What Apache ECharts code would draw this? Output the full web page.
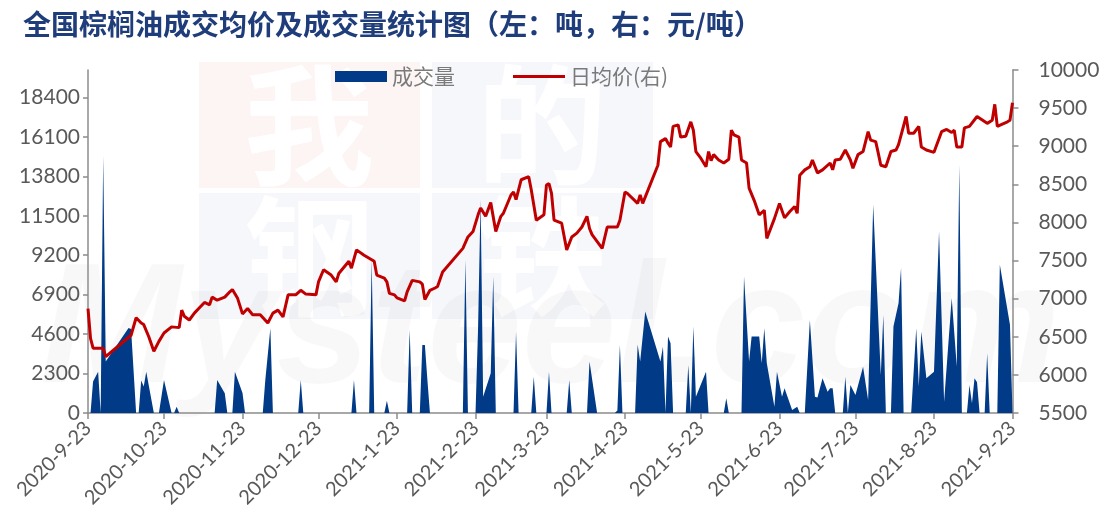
<!DOCTYPE html>
<html>
<head>
<meta charset="utf-8">
<title>全国棕榈油成交均价及成交量统计图</title>
<script src="https://cdn.jsdelivr.net/npm/echarts@6/dist/echarts.min.js"></script>
<style>
  html, body { margin: 0; padding: 0; background: #fff; }
  #main { width: 1118px; height: 529px; }
</style>
</head>
<body>
<div id="main"></div>
<script>
// x = days since 2020-9-23
var tickDay = [0, 30, 61, 91, 122, 153, 181, 212, 242, 273, 303, 334, 365];
var tickLabel = ['2020-9-23', '2020-10-23', '2020-11-23', '2020-12-23', '2021-1-23', '2021-2-23',
  '2021-3-23', '2021-4-23', '2021-5-23', '2021-6-23', '2021-7-23', '2021-8-23', '2021-9-23'];

// 成交量 (吨)
var volDay = [0, 1, 2, 4, 5, 6, 7, 16, 17, 19, 20, 21, 22, 23, 26, 28, 30, 33, 34, 35, 36,
  50, 51, 54, 55, 57, 58, 61, 62, 69, 70, 72, 73, 83, 84, 85,
  104, 105, 106, 111, 112, 113, 117, 118, 119, 126, 127, 128, 131, 132, 133, 134, 135,
  148, 149, 150, 153, 154, 155, 156, 159, 160, 161, 168, 169, 170, 175, 176, 177,
  181, 182, 183, 189, 190, 191, 197, 198, 201, 208, 209, 210, 211,
  216, 217, 218, 220, 226, 227, 228, 229, 230, 231, 236, 237, 238, 239, 240, 244, 245,
  251, 252, 253, 258, 259, 261, 262, 265, 266, 267, 268, 271, 272, 274, 275, 278, 280, 281,
  283, 285, 287, 288, 290, 292, 293, 294, 295, 298, 299, 300, 301, 303, 306, 308, 310,
  313, 314, 315, 317, 318, 320, 321, 322, 325, 327, 328, 329, 331, 334, 336, 338, 341,
  343, 344, 345, 347, 348, 349, 350, 351, 352, 354, 355, 356, 359, 360, 364, 365];
var volVal = [0, 0, 1830, 2410, 0, 14970, 3000, 4960, 4900, 0, 0, 1890, 1540, 2410, 0, 0, 1930, 0, 0, 370, 0,
  0, 1930, 1150, 0, 0, 2410, 1170, 0, 0, 1930, 4940, 0, 0, 1930, 0,
  0, 1930, 0, 0, 8940, 0, 0, 720, 0, 0, 4850, 0, 0, 3970, 3970, 1930, 0,
  0, 8940, 0, 0, 4940, 12440, 950, 2320, 7960, 0, 0, 4750, 0, 0, 2120, 0,
  0, 2410, 0, 0, 1930, 0, 0, 3000, 0, 0, 150, 3970, 0,
  0, 4000, 3000, 5920, 3000, 3870, 0, 4460, 4070, 0, 0, 2800, 0, 5040, 950, 2410, 0,
  0, 860, 0, 0, 7960, 3000, 4460, 4460, 2900, 4940, 2900, 370, 2410, 950, 1440, 175, 370, 0,
  0, 5430, 950, 900, 2030, 1245, 1440, 1440, 0, 0, 2120, 0, 1635, 1050, 2700, 760, 12150,
  2220, 5720, 0, 0, 5040, 6400, 8450, 0, 0, 4940, 1540, 4750, 2030, 2410, 10590, 660, 6700,
  2700, 14480, 0, 0, 1635, 570, 2030, 1800, 0, 0, 3490, 0, 0, 8640, 5140, 0];

// 日均价 (元/吨)
var priceDay = [0, 1, 2, 6, 7, 17, 19, 21, 22, 24, 26, 28, 30, 33, 36, 37, 38, 40, 42, 44, 46,
  48, 49, 51, 54, 56, 57, 59, 61, 63, 65, 68, 71, 73, 75, 77, 79, 82, 84, 86, 90, 91,
  93, 96, 98, 99, 103, 104, 106, 109, 111, 113, 114, 117, 118, 119, 121, 122, 125, 126,
  128, 131, 132, 133, 135, 137, 138, 140, 148, 150, 152, 154, 155, 157, 159, 161, 163,
  164, 167, 168, 169, 171, 174, 175, 177, 180, 181, 182, 183, 184, 187, 189, 191, 193,
  195, 197, 198, 199, 203, 205, 209, 210, 212, 213, 217, 218, 219, 225, 226, 228, 229,
  230, 231, 233, 234, 236, 238, 239, 240, 242, 244, 245, 246, 247, 249, 251, 253, 254,
  255, 257, 258, 260, 261, 263, 265, 267, 268, 271, 273, 275, 277, 279, 280, 281, 283,
  285, 286, 288, 290, 293, 294, 295, 297, 299, 301, 302, 304, 306, 308, 309, 311, 312,
  313, 315, 317, 319, 320, 323, 324, 326, 328, 329, 331, 334, 337, 339, 341, 342, 343,
  345, 346, 348, 351, 355, 357, 358, 359, 363, 364, 365];
var priceVal = [6870, 6480, 6350, 6350, 6240, 6520, 6750, 6680, 6660, 6500, 6310, 6440, 6550, 6630, 6620, 6850, 6770, 6720, 6810, 6880, 6950,
  6920, 7020, 6980, 7020, 7090, 7120, 7010, 6800, 6870, 6790, 6790, 6680, 6810, 6850, 6760, 7050, 7050, 7110, 7060, 7050, 7220,
  7380, 7310, 7220, 7330, 7490, 7400, 7640, 7570, 7530, 7490, 7310, 7270, 7220, 7070, 7050, 7010, 6970, 7090,
  7240, 7220, 7190, 6990, 7110, 7140, 7160, 7350, 7660, 7810, 7880, 8100, 8190, 8080, 8260, 7880, 8080,
  8120, 8360, 8400, 8300, 8560, 8600, 8430, 8030, 8100, 8490, 8510, 8380, 8030, 7990, 7640, 7810, 7860,
  7940, 8080, 7920, 7840, 7660, 7940, 7940, 8030, 8400, 8380, 8250, 8360, 8250, 8750, 9060, 9100, 9040,
  8990, 9260, 9280, 9120, 9130, 9320, 9210, 8930, 8840, 8730, 8930, 8810, 8890, 8820, 8780, 8830, 9210,
  9150, 9120, 8820, 8780, 8450, 8290, 8100, 8160, 7790, 8050, 8250, 8060, 8140, 8210, 8120, 8620, 8690,
  8730, 8820, 8650, 8690, 8780, 8690, 8820, 8830, 8950, 8820, 8710, 8890, 8930, 9190, 9080, 9060, 8910,
  8750, 8730, 8930, 8950, 9020, 9390, 9170, 9170, 9260, 8990, 8950, 8920, 9190, 9220, 9180, 9210, 8990,
  8990, 9240, 9260, 9390, 9300, 9340, 9550, 9260, 9320, 9340, 9570];

var leftTicks = [0, 2300, 4600, 6900, 9200, 11500, 13800, 16100, 18400];

var axisColor = '#8c8c8c';
var labelColor = '#595959';
var navy = '#013a87';
var red = '#c00000';

// 背景水印 我的钢铁 Mysteel.com
var wmBlocks = [
  { x: 199, y: 62, fill: '#fdf4f4', ch: '我' },
  { x: 432, y: 62, fill: '#f6f7fb', ch: '的' },
  { x: 199, y: 193, fill: '#f6f7fb', ch: '钢' },
  { x: 432, y: 193, fill: '#f6f7fb', ch: '铁' }
];
var graphics = [];
wmBlocks.forEach(function (b) {
  graphics.push({
    type: 'rect', z: -10, silent: true,
    shape: { x: b.x, y: b.y, width: 221, height: 126 },
    style: { fill: b.fill }
  });
  graphics.push({
    type: 'text', z: -9, silent: true,
    x: b.x + 110, y: b.y + 63,
    style: {
      text: b.ch, fill: '#ffffff', fontSize: 130, fontWeight: 'bold',
      fontFamily: 'Noto Sans CJK SC', align: 'center', verticalAlign: 'middle'
    }
  });
});
graphics.push({
  type: 'text', z: -8, silent: true,
  x: 40, y: 420,
  style: {
    text: 'Mysteel.com', fill: 'rgba(0,0,0,0.028)', fontSize: 170, fontWeight: 'bold',
    fontStyle: 'italic', fontFamily: 'Liberation Sans', verticalAlign: 'bottom'
  }
});

var myChart = echarts.init(document.getElementById('main'));
var option = {
  animation: false,
  graphic: graphics,
  title: {
    text: '全国棕榈油成交均价及成交量统计图（左：吨，右：元/吨）',
    left: 18,
    top: 5,
    textStyle: {
      color: '#1f3d7a',
      fontSize: 28,
      fontWeight: 'bold',
      fontFamily: 'Noto Sans CJK SC'
    }
  },
  legend: {
    left: 330,
    top: 61,
    itemWidth: 52,
    itemHeight: 11,
    itemGap: 58,
    symbolKeepAspect: true,
    textStyle: { color: '#7a7a7a', fontSize: 21, fontFamily: 'Noto Sans CJK SC' },
    data: [
      { name: '成交量', icon: 'rect' },
      { name: '日均价(右)', icon: 'path://M0,0H52V3H0Z' }
    ]
  },
  grid: { left: 88, right: 105.5, top: 70, bottom: 116 },
  xAxis: {
    type: 'value',
    min: 0,
    max: 365,
    splitLine: { show: false },
    axisLine: { show: true, lineStyle: { color: axisColor, width: 1.5 } },
    axisTick: { show: true, customValues: tickDay, length: 6, lineStyle: { color: axisColor, width: 1.5 } },
    axisLabel: {
      customValues: tickDay,
      formatter: function (v) {
        var i = tickDay.indexOf(v);
        return i >= 0 ? tickLabel[i] : '';
      },
      rotate: 45,
      margin: 12,
      color: labelColor,
      fontSize: 20,
      fontFamily: 'Lato'
    }
  },
  yAxis: [
    {
      type: 'value',
      min: 0,
      max: 20000,
      splitLine: { show: false },
      axisLine: { show: true, lineStyle: { color: axisColor, width: 1.5 } },
      axisTick: { show: true, customValues: leftTicks, length: 5, lineStyle: { color: axisColor, width: 1.5 } },
      axisLabel: {
        customValues: leftTicks, margin: 8, color: labelColor, fontSize: 21, fontFamily: 'Lato',
        formatter: function (v) { return String(v); }
      }
    },
    {
      type: 'value',
      min: 5500,
      max: 10000,
      interval: 500,
      splitLine: { show: false },
      axisLine: { show: true, lineStyle: { color: axisColor, width: 1.5 } },
      axisTick: { show: true, length: 6, lineStyle: { color: axisColor, width: 1.5 } },
      axisLabel: {
        margin: 26, color: labelColor, fontSize: 21, fontFamily: 'Lato',
        formatter: function (v) { return String(v); }
      }
    }
  ],
  series: [
    {
      name: '成交量',
      type: 'line',
      yAxisIndex: 0,
      symbol: 'none',
      color: navy,
      lineStyle: { width: 0 },
      areaStyle: { color: navy, opacity: 1 },
      data: volDay.map(function (d, i) { return [d, volVal[i]]; })
    },
    {
      name: '日均价(右)',
      type: 'line',
      yAxisIndex: 1,
      symbol: 'none',
      color: red,
      lineStyle: { width: 3, color: red },
      z: 5,
      data: priceDay.map(function (d, i) { return [d, priceVal[i]]; })
    }
  ]
};
myChart.setOption(option);
</script>
</body>
</html>
